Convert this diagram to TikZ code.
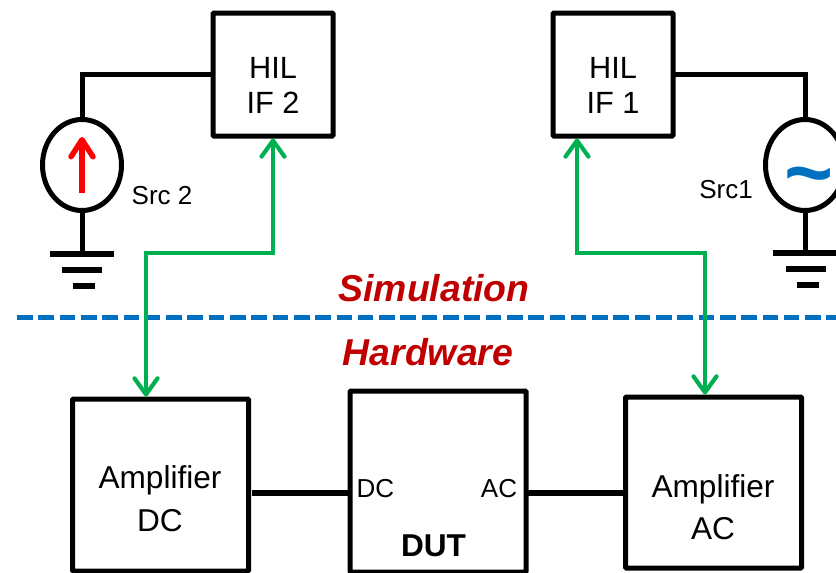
\documentclass[tikz,border=0pt]{standalone}
\usepackage{fontspec}
\setmainfont{Liberation Sans}
\usetikzlibrary{arrows.meta,shapes.geometric}
\definecolor{gline}{HTML}{00B050}
\definecolor{bline}{HTML}{0070C0}
\definecolor{dred}{HTML}{C00000}
\tikzset{
  blockbox/.style={draw=black,line width=5pt,rounded corners=0.8pt,inner sep=0pt,outer sep=0pt},
  srcshape/.style={draw=black,line width=5pt,ellipse,inner sep=0pt,outer sep=0pt,minimum width=79pt,minimum height=91pt},
  wire/.style={draw=black,line width=5pt},
  thickwire/.style={draw=black,line width=6pt},
  gndbar/.style={draw=black,line width=6pt},
  link/.style={draw=gline,line width=4.2pt,{Straight Barb[length=16pt,width=23pt,line width=4.2pt,round]}-{Straight Barb[length=16pt,width=23pt,line width=4.2pt,round]},shorten <=2.5pt},
  txt/.style={anchor=base,inner sep=0pt,outer sep=0pt,font=\fontsize{30.7}{30.7}\selectfont},
  small/.style={anchor=base,inner sep=0pt,outer sep=0pt,font=\fontsize{26}{26}\selectfont},
  banner/.style={anchor=base,inner sep=0pt,outer sep=0pt,text=dred,font=\fontsize{37.4}{37.4}\selectfont\bfseries\itshape},
}
\begin{document}
\begin{tikzpicture}[x=1pt,y=-1pt]
\clip (0,0) rectangle (836,573);
% blocks
\node[blockbox,minimum width=120pt,minimum height=123pt] (hil2) at (273,74.5) {};
\node[blockbox,minimum width=120pt,minimum height=123pt] (hil1) at (613,74.5) {};
\node[blockbox,minimum width=176pt,minimum height=172pt] (ampdc) at (160.5,485) {};
\node[blockbox,minimum width=176pt,minimum height=181pt] (dut) at (438,481.5) {};
\node[blockbox,minimum width=176pt,minimum height=171pt] (ampac) at (713.5,482.5) {};
% sources
\node[srcshape] (src2) at (82,165) {};
\node[srcshape] (src1) at (805,165) {};
% ground and routing points
\coordinate (gnd2a) at (82,254);
\coordinate (gnd1a) at (805,253);
\coordinate (g2) at (146,253);
\coordinate (g1l) at (577,253);
\coordinate (g1r) at (705,253);
\coordinate (busy) at (0,492.7);
% wires
\draw[wire] (hil2.west) -| (src2.north);
\draw[wire] (hil1.east) -| (src1.north);
\draw[wire] (src2.south) -- (gnd2a);
\draw[wire] (src1.south) -- (gnd1a);
\draw[gndbar] (50,254) -- (114,254);
\draw[gndbar] (62,270) -- (102,270);
\draw[gndbar] (73,286) -- (95,286);
\draw[gndbar] (773,253) -- (837,253);
\draw[gndbar] (786,269) -- (826,269);
\draw[gndbar] (797,285) -- (819,285);
\draw[thickwire,shorten <=3pt] (ampdc.east |- busy) -- (dut.west |- busy);
\draw[thickwire] (dut.east |- busy) -- (ampac.west |- busy);
% divider
\coordinate (divl) at (17,317);
\coordinate (divr) at (836,317);
\draw[bline,line width=5pt,dash pattern=on 15.6pt off 5.7pt] (divl) -- (divr);
% bidirectional links
\path[link,shorten >=2.5pt] (hil2.south) |- (g2) -- (g2 |- ampdc.north);
\path[link,shorten >=2.5pt] (hil1.south -| g1l) -- (g1l) -- (g1r) -- (g1r |- ampac.north);
% source symbols
\coordinate (arrowtail) at (82,193);
\coordinate (arrowhead) at (82,137);
\draw[red,line width=5.5pt,-{Straight Barb[length=17pt,width=22pt,line width=5.5pt,round]}] (arrowtail) -- (arrowhead);
\node[anchor=center,inner sep=0pt,outer sep=0pt,text=bline,font=\fontsize{84}{84}\selectfont\bfseries] (tilde) at (809,184) {\char`\~};
% text
\node[txt] (t1) at (273,78) {HIL};
\node[txt] (t2) at (273,113) {IF 2};
\node[txt] (t3) at (613,78) {HIL};
\node[txt] (t4) at (613,113) {IF 1};
\node[small] (t5) at (162,204) {Src 2};
\node[small] (t6) at (726,198) {Src1};
\node[banner] (t7) at (434,301) {Simulation};
\node[banner] (t8) at (428,365) {Hardware};
\node[txt,font=\fontsize{31.6}{31.6}\selectfont] (t9) at (160,488) {Amplifier};
\node[txt,font=\fontsize{31.6}{31.6}\selectfont] (t10) at (160,531) {DC};
\node[txt,font=\fontsize{31.6}{31.6}\selectfont] (t11) at (713,497) {Amplifier};
\node[txt,font=\fontsize{31.6}{31.6}\selectfont] (t12) at (713,539) {AC};
\node[small] (t13) at (375.5,497) {DC};
\node[small] (t14) at (499,497) {AC};
\node[txt,font=\fontsize{31.6}{31.6}\selectfont\bfseries] (t15) at (433.5,556) {DUT};
\end{tikzpicture}
\end{document}
